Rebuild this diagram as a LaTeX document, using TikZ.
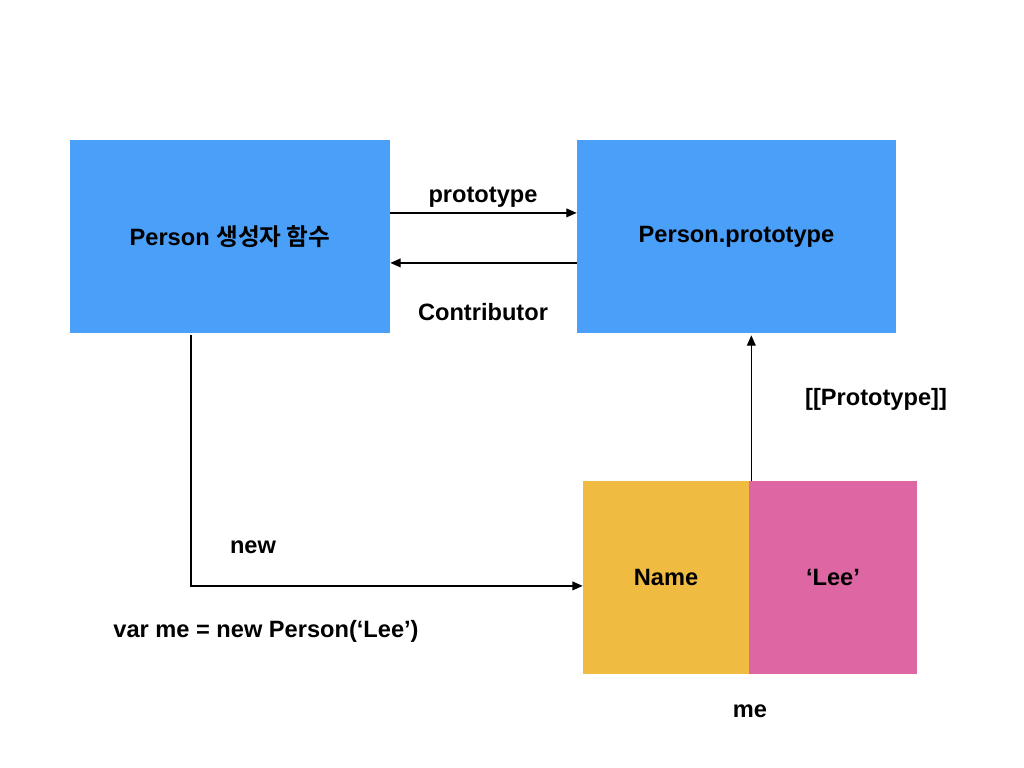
\documentclass[tikz,border=0pt]{standalone}
\usepackage{fontspec}
\setmainfont{Liberation Sans}
\newfontfamily\korfont{Noto Sans CJK KR}[BoldFont={Noto Sans CJK KR Bold}]
\usetikzlibrary{arrows.meta}
\definecolor{boxblue}{HTML}{4A9FF9}
\definecolor{boxyellow}{HTML}{EFBC41}
\definecolor{boxpink}{HTML}{DE67A3}
\tikzset{
  block/.style={fill=#1, inner sep=0pt, minimum height=4.825cm},
  lbl/.style={font=\fontsize{16.8}{20}\selectfont\bfseries},
  arr/.style={-{Triangle[length=2.6mm, width=2.2mm]}, line width=1pt}
}
\begin{document}
\begin{tikzpicture}[x=0.025cm, y=-0.025cm, lbl]
  \useasboundingbox (0,0) rectangle (1024,768);
  \node[block=boxblue, minimum width=8cm] (ctor) at (230,236.5) {Person {\korfont 생성자 함수}};
  \node[block=boxblue, minimum width=7.975cm] (proto) at (736.5,236.5) {Person.prototype};
  \node[block=boxyellow, minimum width=4.15cm] (name) at (666,577.5) {Name};
  \node[block=boxpink, minimum width=4.2cm] (lee) at (833,577.5) {‘Lee’};
  % links between constructor and prototype
  \draw[arr] ([yshift=0.59cm]ctor.east) -- ([yshift=0.59cm]proto.west);
  \draw[arr] ([yshift=-0.66cm]proto.west) -- ([yshift=-0.66cm]ctor.east);
  \node (lproto) at (483,197) {prototype};
  \node (lcontrib) at (483,312) {Contributor};
  % instance creation
  \draw[arr] ([xshift=-0.975cm, yshift=-0.05cm]ctor.south) |- ([yshift=-0.21cm]name.west);
  \node (lnew) at (253,547) {new};
  \node (lvar) at (266,631) {var me = new Person(‘Lee’)};
  \draw[arr] ([xshift=0.05cm]name.north east) -- ([xshift=0.05cm, yshift=-0.05cm]proto.south -| name.north east);
  \node (lproto2) at (876,399) {[[Prototype]]};
  \node (lme) at (750,711) {me};
\end{tikzpicture}
\end{document}
